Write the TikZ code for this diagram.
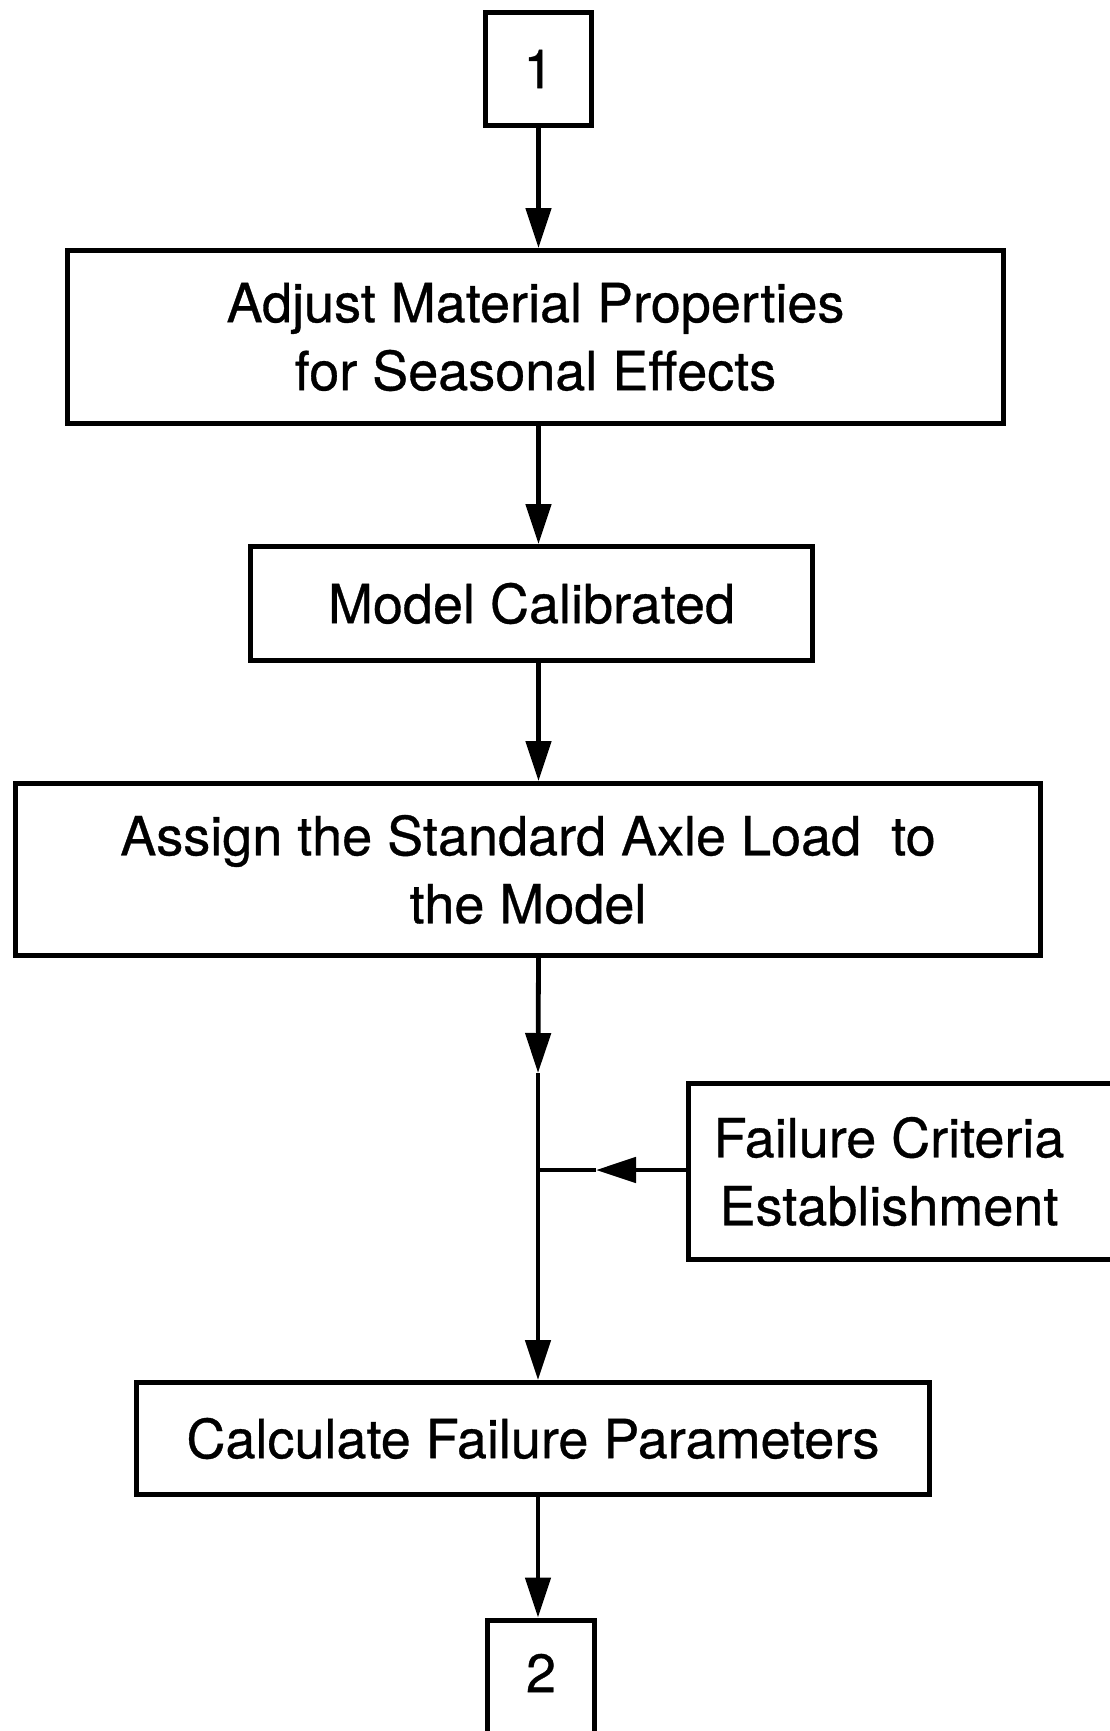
\documentclass[tikz,border=0pt]{standalone}
\usepackage{fontspec}
\newfontfamily\boxfont[FakeBold=0.6]{TeX Gyre Heros}
\usetikzlibrary{arrows.meta}

\begin{document}
\begin{tikzpicture}[x=1pt, y=-1pt,
  every node/.style={font=\boxfont\fontsize{54}{68}\selectfont},
  procbox/.style={draw, line width=5pt, rectangle, inner sep=0pt, align=center},
  link/.style={line width=4.8pt, -{Triangle[length=40pt, width=25pt]}},
  plain/.style={line width=4.8pt}]

  % page frame
  \useasboundingbox (0,0) rectangle (1109,1731);

  % flowchart boxes
  \node[procbox, minimum width=106pt, minimum height=113pt] (b1) at (538.5,69) {1};
  \node[procbox, minimum width=936pt, minimum height=173pt] (b2) at (535.5,337)
    {Adjust Material Properties\\for Seasonal Effects};
  \node[procbox, minimum width=562pt, minimum height=114pt] (b3) at (531.5,603.5)
    {Model Calibrated};
  \node[procbox, minimum width=1025pt, minimum height=172pt] (b4) at (528,869.5)
    {Assign the Standard Axle Load\ \ to\\the Model};
  \node[procbox, minimum width=430pt, minimum height=176pt] (b7) at (903,1171.5)
    {Failure Criteria\hspace*{28pt}\\Establishment\hspace*{28pt}};
  \node[procbox, minimum width=793pt, minimum height=112pt] (b5) at (533,1438.5)
    {Calculate Failure Parameters};
  \node[procbox, minimum width=107pt, minimum height=140pt, text depth=34pt] (b6) at (541,1690) {2};

  % points on the main line
  \coordinate (m1) at (538,1073);
  \coordinate (j) at (538,1170);
  \coordinate (h) at (596,1170);

  % connectors
  \draw[link] (b1.south) -- (b1.south |- b2.north);
  \draw[link] (b1.south |- b2.south) -- (b1.south |- b3.north);
  \draw[link] (b1.south |- b3.south) -- (b1.south |- b4.north);
  \draw[link] (b1.south |- b4.south) -- (m1);
  \draw[link] (m1) -- (m1 |- b5.north);
  \draw[link] (b7.west |- h) -- (h);
  \draw[plain] (h) -- ([xshift=-2.4pt]j);
  \draw[link] (m1 |- b5.south) -- (m1 |- b6.north);
\end{tikzpicture}
\end{document}
